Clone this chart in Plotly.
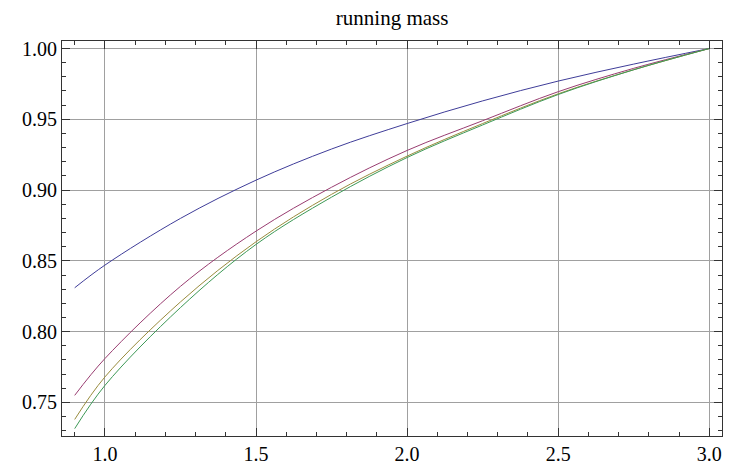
import plotly.graph_objects as go

x = [0.9, 1.0, 1.25, 1.5, 1.75, 2.0, 2.25, 2.5, 2.75, 3.0]
blue = [0.831, 0.847, 0.880, 0.907, 0.929, 0.947, 0.963, 0.977, 0.989, 1.0]
red = [0.755, 0.781, 0.832, 0.871, 0.902, 0.928, 0.949, 0.9695, 0.986, 1.0]
yellow = [0.738, 0.768, 0.821, 0.8635, 0.897, 0.924, 0.947, 0.968, 0.985, 1.0]
green = [0.7315, 0.762, 0.817, 0.8616, 0.895, 0.923, 0.946, 0.9675, 0.985, 1.0]

series = [
    (blue, "#3F3D99"),
    (red, "#993D71"),
    (yellow, "#998C3D"),
    (green, "#3D9956"),
]

fig = go.Figure()
for ys, col in series:
    fig.add_trace(go.Scatter(x=x, y=ys, mode="lines",
                             line=dict(color=col, width=1, shape="spline", smoothing=1.0),
                             showlegend=False, hoverinfo="skip"))

font = "Liberation Serif"
axis_common = dict(
    showline=True, linecolor="#333333", linewidth=1, mirror="allticks",
    ticks="inside", ticklen=8, tickcolor="#333333", tickwidth=1,
    showgrid=True, gridcolor="#A0A0A0", gridwidth=1, zeroline=False,
    tickfont=dict(family=font, size=20, color="#000000"),
)

fig.update_layout(
    width=733, height=475,
    margin=dict(l=62, r=10, t=41, b=26),
    paper_bgcolor="white", plot_bgcolor="white",
    title=dict(text="running mass", x=0.535, xanchor="center", y=0.963, yanchor="middle",
               font=dict(family=font, size=21, color="#000000")),
    xaxis=dict(range=[0.858, 3.042], tickvals=[1.0, 1.5, 2.0, 2.5, 3.0],
               ticktext=["1.0", "1.5", "2.0", "2.5", "3.0"],
               minor=dict(dtick=0.1, tick0=0.0, ticks="inside", ticklen=4,
                          tickcolor="#333333", showgrid=False),
               **axis_common),
    yaxis=dict(range=[0.7263, 1.0053], tickvals=[0.75, 0.80, 0.85, 0.90, 0.95, 1.00],
               ticktext=["0.75", "0.80", "0.85", "0.90", "0.95", "1.00"],
               minor=dict(dtick=0.01, tick0=0.0, ticks="inside", ticklen=4,
                          tickcolor="#333333", showgrid=False),
               **axis_common),
)

fig.write_html("out.html")
